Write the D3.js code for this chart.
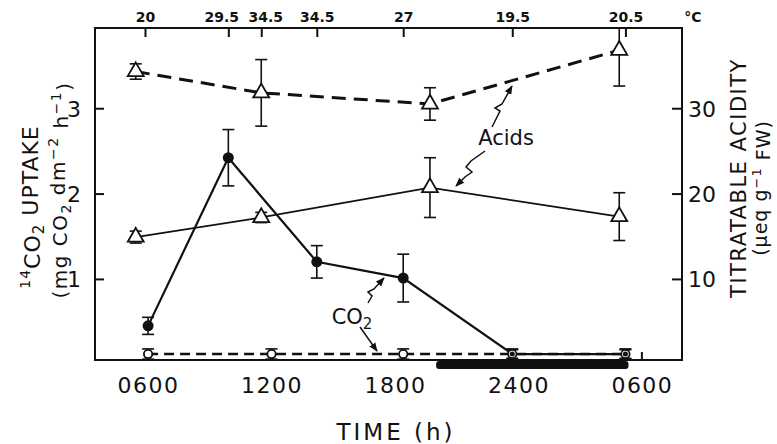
<!DOCTYPE html>
<html><head><meta charset="utf-8">
<script src="https://cdn.jsdelivr.net/npm/d3@7"></script>
<style>
html,body{margin:0;padding:0;background:#fff;}
svg{display:block;}
text{font-family:"DejaVu Sans",sans-serif;fill:#111;}
</style></head>
<body>
<svg id="c" width="777" height="444"></svg>
<script>
// ---- data ----
const acidTimesHigh = [5.4, 11.5, 19.7, 28.9];          // h
const acidHigh = [34.3, 31.8, 30.5, 36.8];              // µeq g-1 FW (dashed)
const acidHighErr = [0.9, 3.9, 1.9, 4.2];
const acidTimesLow = [5.4, 11.5, 19.7, 28.9];
const acidLow = [14.9, 17.2, 20.7, 17.3];               // solid
const acidLowErr = [0.7, 0.6, 3.5, 2.8];
const co2Times = [6.0, 9.9, 14.2, 18.4, 23.7, 29.2];
const co2Uptake = [0.45, 2.42, 1.20, 1.01, 0.12, 0.12]; // mg CO2 dm-2 h-1 (filled)
const co2Err = [0.10, 0.33, 0.19, 0.28, 0.05, 0.05];
const co2OpenTimes = [6.0, 12.0, 18.4, 23.7, 29.2];
const co2Open = [0.12, 0.12, 0.12, 0.12, 0.12];         // open circles, dashed
const co2OpenErr = [0.06, 0.06, 0.06, 0.06, 0.06];
const tempTimes = [5.85, 9.9, 11.5, 14.2, 18.4, 23.7, 29.2];
const tempLabels = ["20", "29.5", "34.5", "34.5", "27", "19.5", "20.5"];
const timeTicks = [6, 12, 18, 24, 30];
const timeTickLabels = ["0600", "1200", "1800", "2400", "0600"];
const leftTicks = [1, 2, 3];
const rightTicks = [10, 20, 30];
const darkPeriod = [20.0, 29.35];

// ---- layout ----
const L = 95, R = 682, T = 28, B = 360;
const tempLabelNudge = [0, -7, 4, 0, 0, 0, 0]; // px, to keep crowded labels apart
const svg = d3.select("#c");
const x = d3.scaleLinear().domain([3.42, 31.95]).range([L, R]);
const y = d3.scaleLinear().domain([0.05, 3.94]).range([B, T]);
const yr = d3.scaleLinear().domain([0.5, 39.4]).range([B, T]);

// dark period bar
svg.append("rect")
  .attr("x", x(darkPeriod[0])).attr("y", B + 1)
  .attr("width", x(darkPeriod[1]) - x(darkPeriod[0])).attr("height", 8)
  .attr("rx", 3).attr("fill", "#111");

// axes (inward ticks)
const gL = svg.append("g").attr("transform", `translate(${L},0)`)
  .call(d3.axisRight(y).tickValues(leftTicks).tickSize(9).tickFormat(d => d));
gL.selectAll("text").attr("x", -14).attr("text-anchor", "end").style("font-size", "22px").attr("dy", "0.36em");
const gR = svg.append("g").attr("transform", `translate(${R},0)`)
  .call(d3.axisLeft(yr).tickValues(rightTicks).tickSize(10).tickFormat(d => d));
gR.selectAll("text").attr("x", 6).attr("text-anchor", "start").style("font-size", "22px").attr("dy", "0.36em");
const gT = svg.append("g").attr("transform", `translate(0,${T})`)
  .call(d3.axisBottom(x).tickValues(tempTimes).tickSize(9).tickFormat((d, i) => tempLabels[i]));
gT.selectAll("text").attr("y", -6).attr("dy", 0).attr("x", (d, i) => tempLabelNudge[i])
  .style("font-size", "14px").style("font-weight", "bold");
const gB = svg.append("g").attr("transform", `translate(0,${B})`)
  .call(d3.axisTop(x).tickValues(timeTicks).tickSize(0).tickFormat((d, i) => timeTickLabels[i]));
gB.selectAll("text").attr("y", 33).attr("dy", 0).style("font-size", "22px").style("letter-spacing", "1.5px");
[gL, gR, gT, gB].forEach(g => { g.select(".domain").remove(); g.selectAll("line").attr("stroke", "#111").attr("stroke-width", 2); });
// single visible bottom tick at 0600
svg.append("line").attr("x1", x(30)).attr("x2", x(30)).attr("y1", B).attr("y2", B - 8).attr("stroke", "#111").attr("stroke-width", 2);

// frame
svg.append("rect").attr("x", L).attr("y", T).attr("width", R - L).attr("height", B - T)
  .attr("fill", "none").attr("stroke", "#111").attr("stroke-width", 2);

svg.append("text").attr("x", 693).attr("y", 22).attr("text-anchor", "middle")
  .style("font-size", "14px").style("font-weight", "bold").text("°C");

// axis titles
const lt = svg.append("text").attr("transform", "translate(36,207) rotate(-90)").attr("text-anchor", "middle")
  .style("font-size", "22px").style("letter-spacing", "1px");
lt.append("tspan").attr("dy", "-0.45em").style("font-size", "14px").text("14");
lt.append("tspan").attr("dy", "0.45em").text("CO");
lt.append("tspan").attr("dy", "0.3em").style("font-size", "15px").text("2");
lt.append("tspan").attr("dy", "-0.3em").text(" UPTAKE");
const lt2 = svg.append("text").attr("transform", "translate(67,190) rotate(-90)").attr("text-anchor", "middle")
  .style("font-size", "20px").style("letter-spacing", "1.5px");
lt2.append("tspan").text("(mg CO");
lt2.append("tspan").attr("dy", "0.3em").style("font-size", "14px").text("2");
lt2.append("tspan").attr("dy", "-0.3em").text(" dm");
lt2.append("tspan").attr("dy", "-0.5em").style("font-size", "14px").text("−2");
lt2.append("tspan").attr("dy", "0.5em").text(" h");
lt2.append("tspan").attr("dy", "-0.5em").style("font-size", "14px").text("−1");
lt2.append("tspan").attr("dy", "0.5em").text(")");

svg.append("text").attr("transform", "translate(746,178) rotate(-90)").attr("text-anchor", "middle")
  .style("font-size", "21px").style("letter-spacing", "1.5px").text("TITRATABLE ACIDITY");
const rt2 = svg.append("text").attr("transform", "translate(767,188) rotate(-90)").attr("text-anchor", "middle")
  .style("font-size", "19px").style("letter-spacing", "1px");
rt2.append("tspan").text("(μeq g");
rt2.append("tspan").attr("dy", "-0.5em").style("font-size", "13px").text("−1");
rt2.append("tspan").attr("dy", "0.5em").text(" FW)");

svg.append("text").attr("x", 396).attr("y", 440).attr("text-anchor", "middle")
  .style("font-size", "23px").style("letter-spacing", "3px").text("TIME (h)");

// ---- series ----
const line = d3.line();
function pts(ts, vs, sc) { return ts.map((t, i) => [x(t), sc(vs[i])]); }

// lines
svg.append("path").attr("d", line(pts(acidTimesHigh, acidHigh, yr))).attr("fill", "none")
  .attr("stroke", "#111").attr("stroke-width", 3).attr("stroke-dasharray", "14 8");
svg.append("path").attr("d", line(pts(acidTimesLow, acidLow, yr))).attr("fill", "none")
  .attr("stroke", "#111").attr("stroke-width", 1.8);
svg.append("path").attr("d", line(pts(co2Times, co2Uptake, y))).attr("fill", "none")
  .attr("stroke", "#111").attr("stroke-width", 2.2);
svg.append("path").attr("d", line(pts(co2OpenTimes, co2Open, y))).attr("fill", "none")
  .attr("stroke", "#111").attr("stroke-width", 2.6).attr("stroke-dasharray", "10 6");

// error bars
function errBars(ts, vs, es, sc) {
  const g = svg.append("g").attr("stroke", "#111").attr("stroke-width", 1.6);
  ts.forEach((t, i) => {
    const cx = x(t);
    const y1 = Math.max(T, sc(vs[i] + es[i])), y2 = Math.min(B, sc(vs[i] - es[i]));
    g.append("line").attr("x1", cx).attr("x2", cx).attr("y1", y1).attr("y2", y2);
    if (sc(vs[i] + es[i]) >= T) g.append("line").attr("x1", cx - 6).attr("x2", cx + 6).attr("y1", y1).attr("y2", y1);
    if (sc(vs[i] - es[i]) <= B) g.append("line").attr("x1", cx - 6).attr("x2", cx + 6).attr("y1", y2).attr("y2", y2);
  });
}
errBars(acidTimesHigh, acidHigh, acidHighErr, yr);
errBars(acidTimesLow, acidLow, acidLowErr, yr);
errBars(co2Times, co2Uptake, co2Err, y);
errBars(co2OpenTimes, co2Open, co2OpenErr, y);

// markers
const tri = d3.symbol().type(d3.symbolTriangle).size(110);
[[acidTimesHigh, acidHigh], [acidTimesLow, acidLow]].forEach(([ts, vs]) => {
  svg.append("g").selectAll("path").data(ts).join("path")
    .attr("transform", (t, i) => `translate(${x(t)},${yr(vs[i])})`)
    .attr("d", tri).attr("fill", "#fff").attr("stroke", "#111").attr("stroke-width", 1.8);
});
svg.append("g").selectAll("circle").data(co2OpenTimes).join("circle")
  .attr("cx", t => x(t)).attr("cy", (t, i) => y(co2Open[i])).attr("r", 4.2)
  .attr("fill", "#fff").attr("stroke", "#111").attr("stroke-width", 1.8);
svg.append("g").selectAll("circle").data(co2Times).join("circle")
  .attr("cx", t => x(t)).attr("cy", (t, i) => y(co2Uptake[i])).attr("r", (t, i) => co2Uptake[i] > 0.3 ? 5.5 : 2.5)
  .attr("fill", "#111");

// ---- annotations ----
const defs = svg.append("defs");
defs.append("marker").attr("id", "ah").attr("viewBox", "0 0 10 10").attr("refX", 9).attr("refY", 5)
  .attr("markerWidth", 9).attr("markerHeight", 9).attr("orient", "auto-start-reverse").attr("markerUnits", "userSpaceOnUse")
  .append("path").attr("d", "M0,1 L10,5 L0,9 Z").attr("fill", "#111");
function arrow(d) {
  svg.append("path").attr("d", d).attr("fill", "none").attr("stroke", "#111")
    .attr("stroke-width", 1.5).attr("marker-end", "url(#ah)");
}
svg.append("text").attr("x", 506).attr("y", 145).attr("text-anchor", "middle").style("font-size", "21px").text("Acids");
arrow("M492,127 L500,111 L495,108 L502,104 L512,86");
arrow("M485,151 L471,161 L466,167 L472,172 L465,177 L456,186");
const ct = svg.append("text").attr("x", 352).attr("y", 324).attr("text-anchor", "middle").style("font-size", "21px");
ct.append("tspan").text("CO");
ct.append("tspan").attr("dy", "0.3em").style("font-size", "15px").text("2");
arrow("M368,303 L372,296 L368,292 L374,289 L384,278");
arrow("M360,327 L377,351");
</script>
</body></html>
